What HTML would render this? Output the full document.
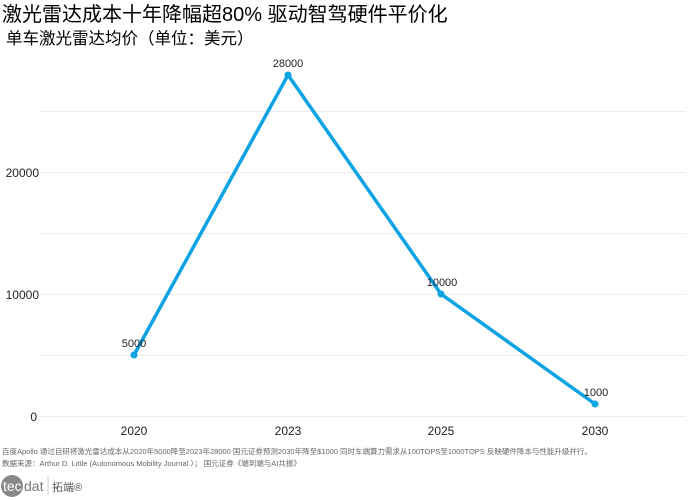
<!DOCTYPE html><html><head><meta charset="utf-8"><style>body{margin:0;background:#fff;width:693px;height:500px;overflow:hidden}svg{display:block}</style></head><body>
<svg width="693" height="500" xmlns="http://www.w3.org/2000/svg" font-family="Liberation Sans, Noto Sans CJK SC, sans-serif">
<text x="2" y="21" font-size="20" fill="#000">激光雷达成本十年降幅超80%  驱动智驾硬件平价化</text>
<text x="6" y="44" font-size="16.5" fill="#000">单车激光雷达均价（单位：美元）</text>
<g stroke="#ececec" stroke-width="1">
<line x1="40" x2="686" y1="111.5" y2="111.5"/><line x1="40" x2="686" y1="172.5" y2="172.5"/><line x1="40" x2="686" y1="233.5" y2="233.5"/><line x1="40" x2="686" y1="294.5" y2="294.5"/><line x1="40" x2="686" y1="355.5" y2="355.5"/><line x1="40" x2="686" y1="416.5" y2="416.5"/></g>
<g font-size="12" fill="#222" text-anchor="end"><text x="39" y="177">20000</text><text x="39" y="299">10000</text><text x="37" y="421">0</text></g>
<g font-size="12" fill="#222" text-anchor="middle"><text x="134" y="435">2020</text><text x="288" y="435">2023</text><text x="441" y="435">2025</text><text x="595" y="435">2030</text></g>
<polyline points="134,355 288,75 441,294 595,404" fill="none" stroke="#0ba3e3" stroke-width="3.5" stroke-linejoin="round"/>
<g fill="#0ba3e3"><circle cx="134" cy="355" r="3.5"/><circle cx="288" cy="75" r="3.5"/><circle cx="441" cy="294" r="3.5"/><circle cx="595" cy="404" r="3.5"/></g>
<g font-size="11" fill="#222" text-anchor="middle"><text x="134" y="347">5000</text><text x="288" y="67">28000</text><text x="442" y="286">10000</text><text x="596" y="396">1000</text></g>
<g font-size="7.5" fill="#666"><text x="2" y="454">百度Apollo 通过自研将激光雷达成本从2020年5000降至2023年28000    国元证券预测2030年降至$1000  同时车端算力需求从100TOPS至1000TOPS  反映硬件降本与性能升级并行。</text>
<text x="2" y="466">数据来源：Arthur D. Little      (Autonomous Mobility Journal  ）；  国元证券《端到端与AI共振》</text></g>
<circle cx="12" cy="486" r="11" fill="#888"/><text x="3" y="491" font-size="14" fill="#fff">tec</text><text x="24" y="491" font-size="14" fill="#777">dat</text>
<line x1="48" y1="477" x2="48" y2="495" stroke="#ccc"/><text x="52" y="491" font-size="11" fill="#555">拓端®</text>
</svg></body></html>
